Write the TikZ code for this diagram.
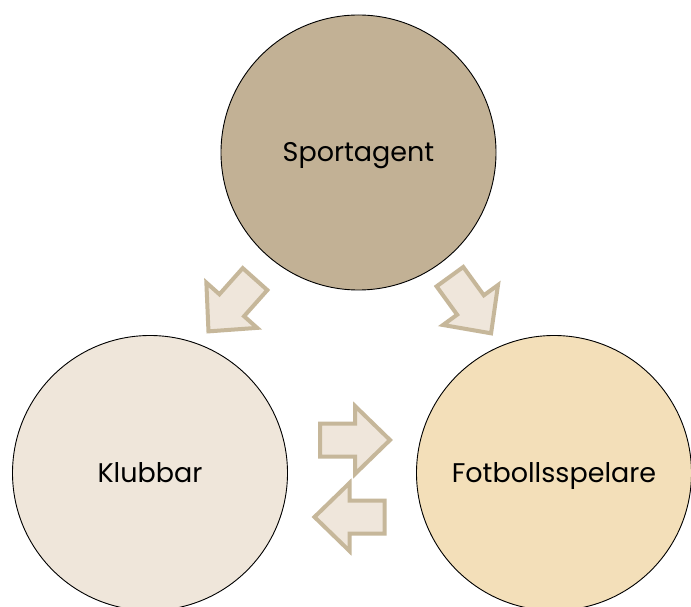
\documentclass[tikz,border=0pt]{standalone}
\usepackage{fontspec}
\setmainfont{Poppins}
\definecolor{agentfill}{HTML}{C2B195}
\definecolor{clubfill}{HTML}{EFE6DA}
\definecolor{playerfill}{HTML}{F3DFB9}
\definecolor{arrowfill}{HTML}{EFE6DB}
\definecolor{arrowline}{HTML}{C6B79A}
\tikzset{
  party/.style={circle, draw=black, line width=0.9pt, minimum size=275pt, inner sep=0pt,
    font=\fontsize{27}{32}\selectfont, text=black, text height=19pt, text depth=0pt},
  blockarrow/.style={draw=arrowline, fill=arrowfill, line width=4pt, line join=miter}
}
\newcommand\bigarrow[4]{%
  \begin{scope}[shift={(#2,#3)}, rotate=#4]
    \draw[blockarrow] (-35,-16.5) -- (0,-16.5) -- (0,-34) -- (35,0) -- (0,34) -- (0,16.5) -- (-35,16.5) -- cycle;
    \coordinate (#1) at (0,0);
  \end{scope}}
\begin{document}
\begin{tikzpicture}[x=1pt, y=1pt]
  \useasboundingbox[fill=white] (0,0) rectangle (691,606);
  \node[party, fill=agentfill] (agent) at (358.5,453.5) {Sportagent};
  \node[party, fill=clubfill] (club) at (150,133) {Klubbar};
  \node[party, fill=playerfill] (player) at (554,133) {Fotbollsspelare};
  \bigarrow{a1}{231.75}{300.75}{228.3}
  \bigarrow{a2}{470.5}{301}{-54}
  \bigarrow{a3}{355}{166}{0}
  \bigarrow{a4}{349.5}{89}{180}
\end{tikzpicture}
\end{document}
